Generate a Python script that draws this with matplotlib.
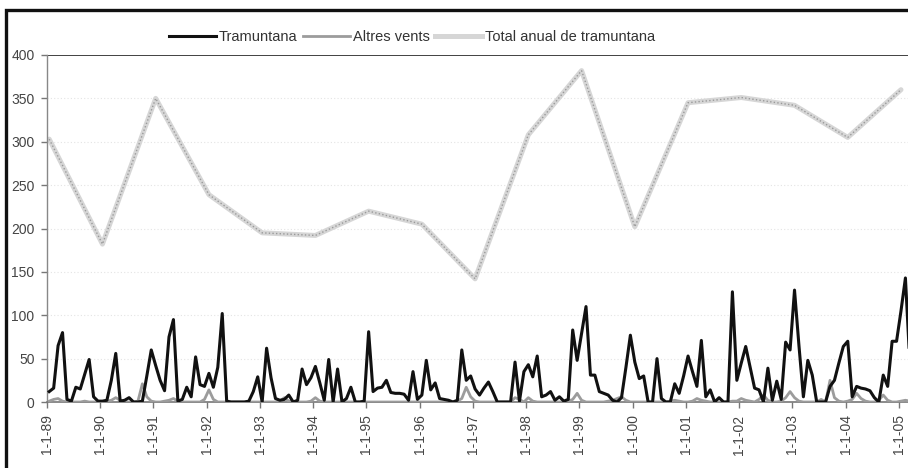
import numpy as np
import matplotlib
matplotlib.use("Agg")
import matplotlib.pyplot as plt
from matplotlib.patches import Rectangle

plt.rcParams['font.family'] = ['Liberation Sans', 'DejaVu Sans']

# monthly values, Jan 1989 .. May 2005
tramuntana = [
    12, 16, 65, 80, 3, 1, 17, 15, 32, 49, 6, 1,          # 1989
    1, 2, 25, 56, 1, 2, 5, 0, 0, 1, 30, 60,              # 1990
    42, 25, 13, 75, 95, 1, 3, 17, 6, 52, 20, 18,         # 1991
    33, 17, 40, 102, 1, 0, 0, 0, 0, 1, 12, 29,           # 1992
    0, 62, 28, 4, 2, 3, 8, 0, 2, 38, 20, 28,             # 1993
    41, 22, 2, 49, 0, 38, 0, 4, 17, 0, 0, 1,             # 1994
    81, 12, 16, 17, 25, 11, 10, 10, 9, 2, 35, 3,         # 1995
    8, 48, 14, 22, 4, 3, 2, 0, 2, 60, 25, 30,            # 1996
    15, 8, 16, 23, 12, 0, 0, 0, 0, 46, 1, 35,            # 1997
    43, 29, 53, 6, 8, 12, 2, 6, 1, 3, 83, 48,            # 1998
    79, 110, 31, 31, 12, 10, 8, 2, 0, 5, 40, 77,         # 1999
    46, 27, 30, 0, 0, 50, 4, 0, 0, 21, 10, 30,           # 2000
    53, 35, 18, 71, 6, 14, 0, 5, 0, 0, 127, 25,          # 2001
    45, 64, 40, 16, 14, 0, 39, 2, 24, 3, 69, 60,         # 2002
    129, 65, 6, 48, 31, 0, 0, 0, 18, 25, 45, 64,         # 2003
    70, 6, 18, 16, 15, 13, 5, 0, 31, 18, 70, 70,         # 2004
    105, 143, 44, 52, 20,                                # 2005
]

altres = [
    1, 3, 4, 1, 0, 0, 0, 0, 1, 0, 0, 0,
    0, 1, 2, 5, 2, 0, 0, 0, 1, 21, 6, 1,
    0, 0, 1, 2, 4, 1, 0, 0, 0, 0, 0, 3,
    14, 3, 0, 0, 0, 0, 0, 0, 0, 0, 0, 0,
    0, 0, 0, 0, 1, 5, 1, 0, 0, 0, 0, 1,
    5, 1, 0, 0, 0, 0, 0, 0, 0, 0, 0, 0,
    0, 0, 0, 0, 0, 0, 0, 0, 0, 0, 0, 0,
    0, 0, 0, 0, 0, 0, 0, 0, 1, 4, 17, 6,
    1, 0, 0, 0, 0, 0, 0, 0, 0, 5, 3, 0,
    5, 1, 0, 0, 0, 0, 0, 0, 0, 1, 3, 10,
    2, 0, 0, 0, 0, 0, 1, 2, 4, 6, 2, 0,
    0, 0, 0, 0, 0, 0, 0, 0, 1, 2, 1, 0,
    0, 1, 4, 2, 1, 0, 0, 0, 0, 0, 1, 1,
    4, 2, 1, 0, 3, 8, 2, 0, 0, 1, 5, 12,
    5, 1, 0, 0, 0, 0, 3, 0, 25, 5, 1, 0,
    1, 3, 10, 4, 1, 0, 0, 2, 8, 2, 0, 0,
    1, 2, 1, 0, 0,
]

years = ['89', '90', '91', '92', '93', '94', '95', '96', '97', '98', '99',
         '00', '01', '02', '03', '04', '05']
total_anual = [303, 182, 350, 239, 195, 192, 220, 205, 142, 308, 382,
               202, 345, 351, 342, 305, 360]

W, H = 908, 468
fig = plt.figure(figsize=(W / 100, H / 100), dpi=100)

# outer frame (cropped on right/bottom)
fig.patches.append(Rectangle((6 / W, -0.05), 1.2, (H - 10) / H + 0.05,
                             transform=fig.transFigure, fill=False,
                             edgecolor='#111111', linewidth=2.4, zorder=0))

ax = fig.add_axes([47 / W, (H - 402) / H, (W - 47) / W + 0.01, 347 / H])

x_month = np.arange(len(tramuntana)) + 0.5
x_year = np.arange(len(total_anual)) * 12 + 0.5

for v in range(50, 400, 50):
    ax.axhline(v, color='#e4e4e4', lw=0.8, ls=(0, (1, 2)), zorder=0)
ax.axhline(400, color='#333333', lw=1.3, zorder=1)

ax.plot(x_year, total_anual, color='#d6d6d6', lw=3.6, solid_capstyle='round', zorder=2)
ax.plot(x_year, total_anual, color='#9a9a9a', lw=1.0, ls=(0, (1, 1.6)), zorder=3)
ax.plot(x_month, altres, color='#9c9c9c', lw=2.0, zorder=4)
ax.plot(x_month, tramuntana, color='#111111', lw=2.2, zorder=5)

ax.set_xlim(0, (W - 47) / 4.39)
ax.set_ylim(0, 400)
ax.set_yticks(range(0, 401, 50))
ax.set_xticks(np.arange(len(years)) * 12)
ax.set_xticklabels(['1-1-' + y for y in years], rotation=90)

for s in ['top', 'right']:
    ax.spines[s].set_visible(False)
ax.spines['left'].set_color('#888888')
ax.spines['bottom'].set_color('#777777')
ax.spines['left'].set_linewidth(1.0)
ax.spines['bottom'].set_linewidth(1.2)
ax.tick_params(axis='both', colors='#777777', labelcolor='#444444',
               labelsize=10, length=4, width=1)
ax.tick_params(axis='y', pad=5)
ax.tick_params(axis='x', pad=5)

# legend handles
h1, = ax.plot([], [], color='#111111', lw=2.2)
h2, = ax.plot([], [], color='#9c9c9c', lw=2.0)
h3, = ax.plot([], [], color='#d6d6d6', lw=3.6)
fig.legend([h1, h2, h3], ['Tramuntana', 'Altres vents', 'Total anual de tramuntana'],
           loc='center', bbox_to_anchor=(412 / W, (H - 37) / H), ncol=3,
           frameon=False, fontsize=10.5, handlelength=3.2, handletextpad=0.2,
           columnspacing=0.4, labelcolor='#333333')

fig.savefig('out.png', dpi=100)
